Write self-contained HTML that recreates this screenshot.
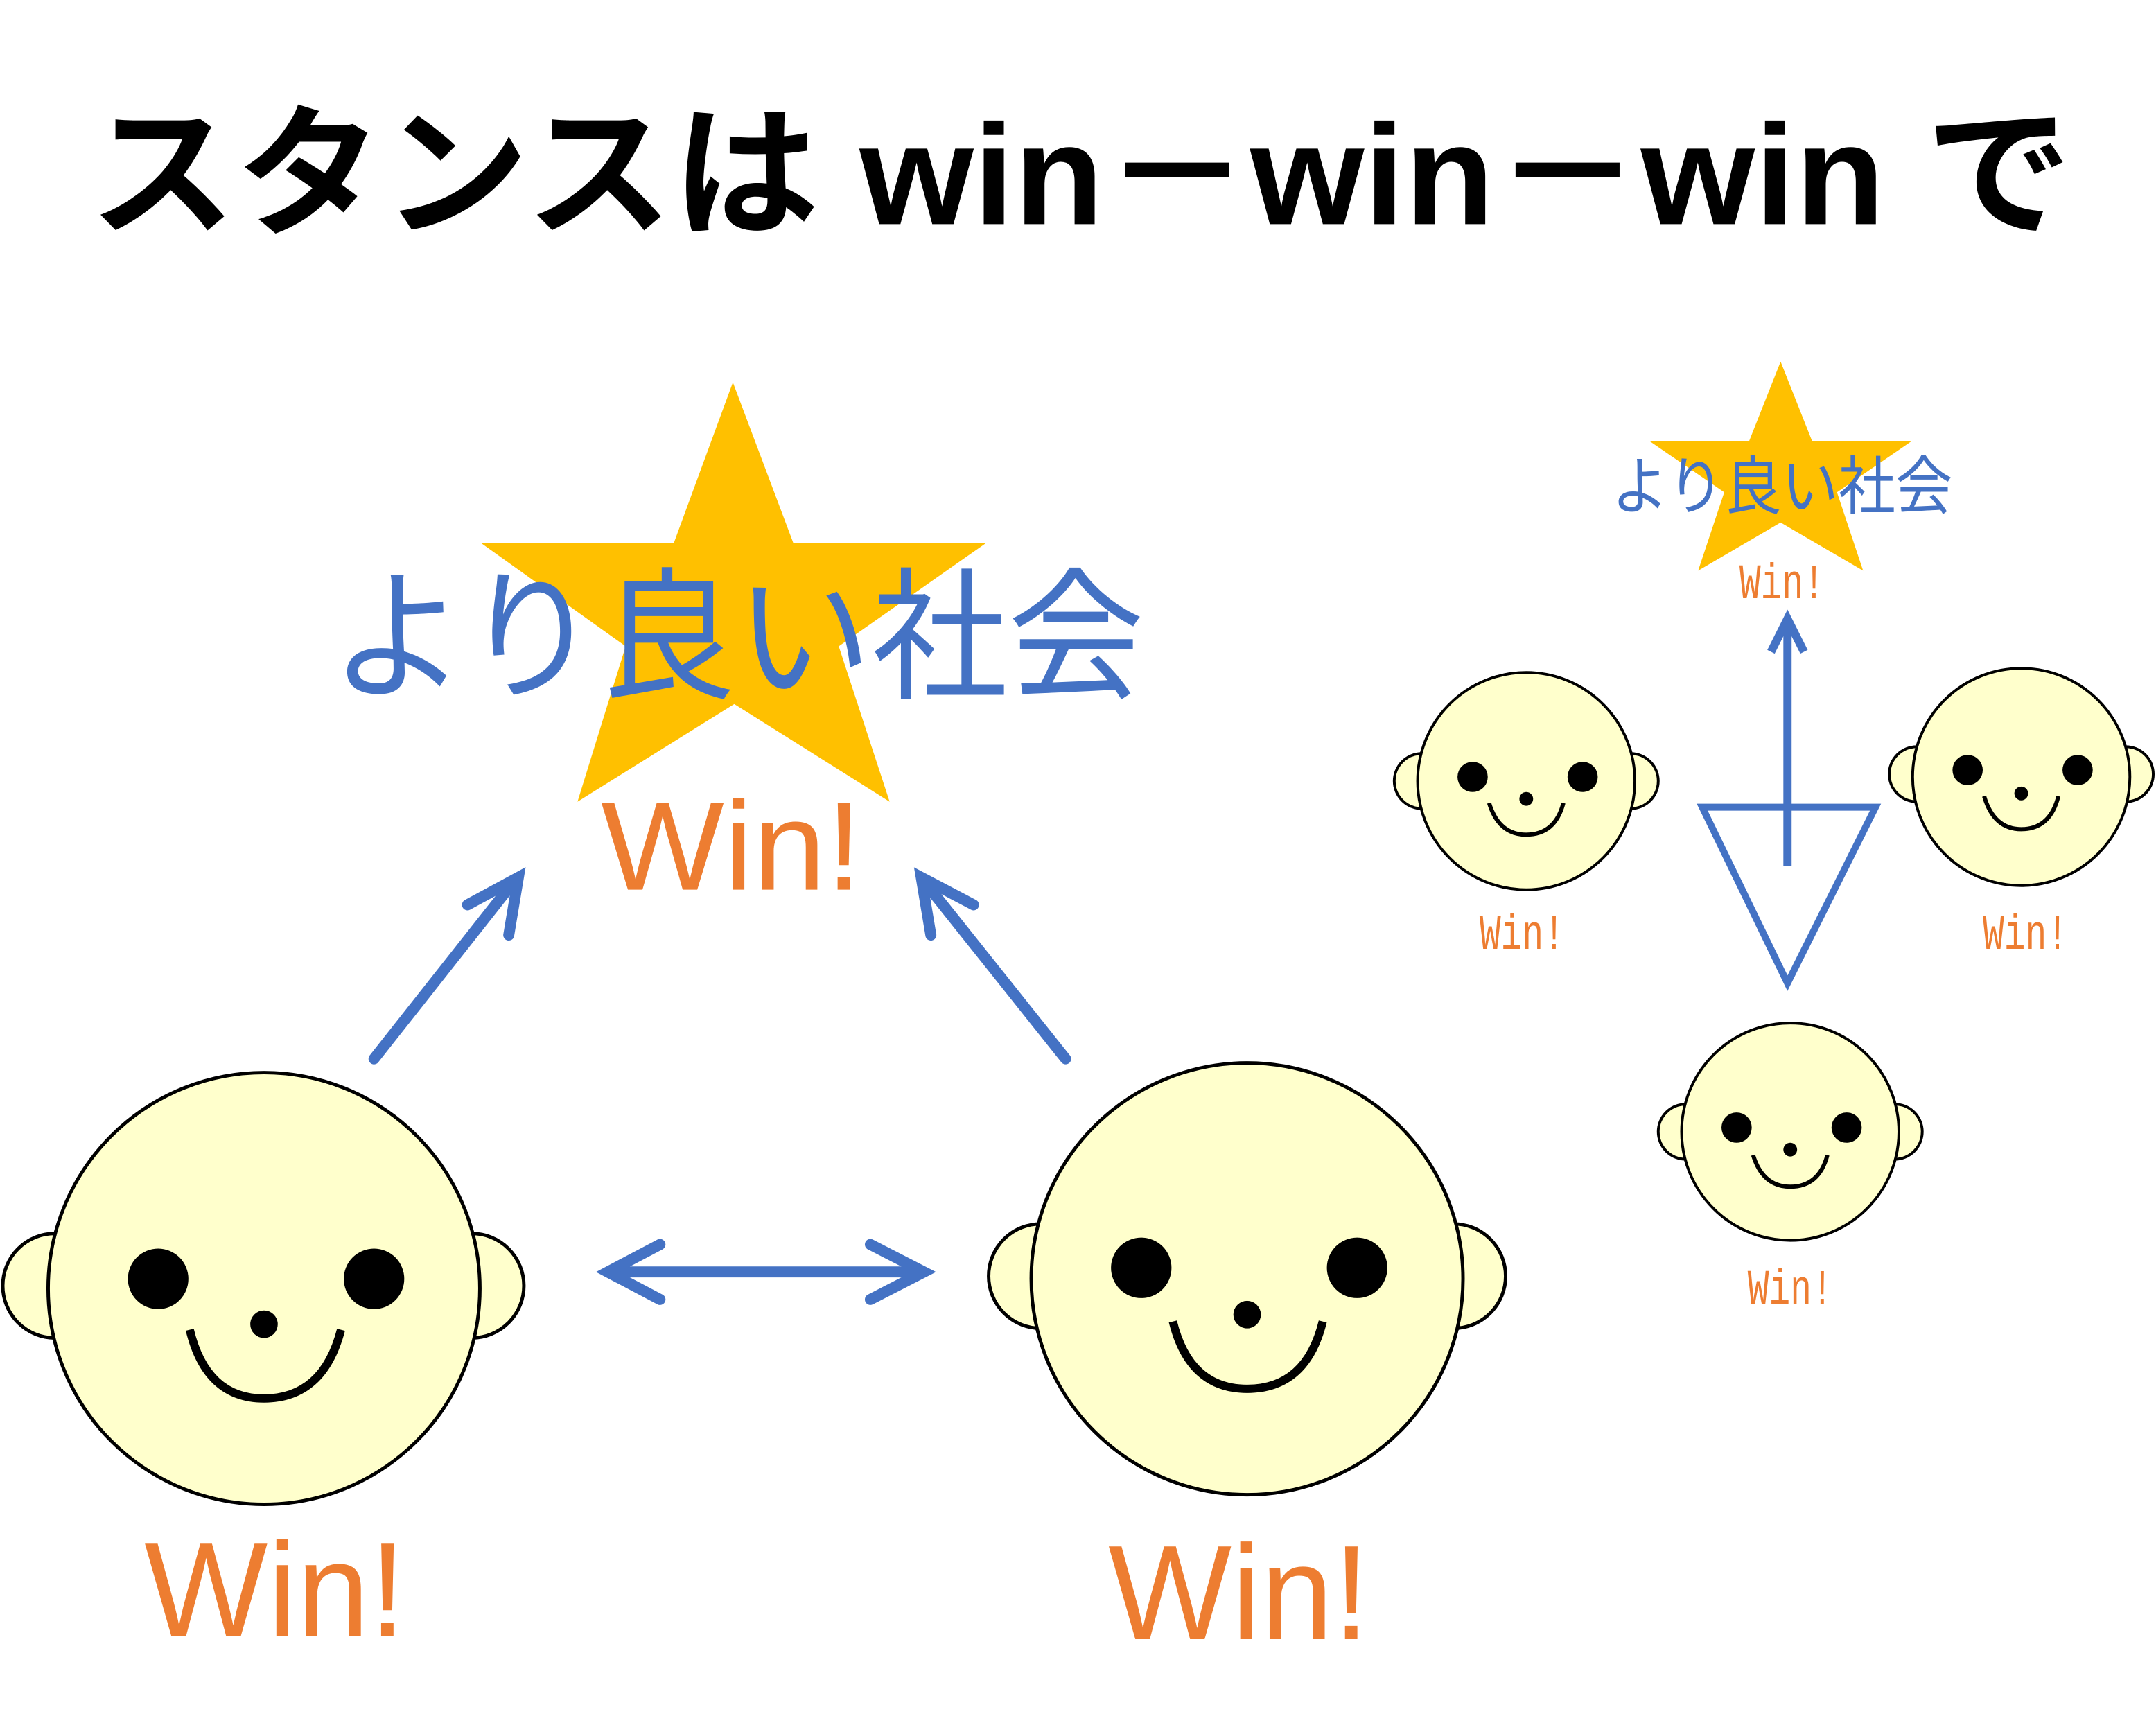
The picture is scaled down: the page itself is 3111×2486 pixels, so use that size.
<!DOCTYPE html>
<html><head><meta charset="utf-8"><style>html,body{margin:0;padding:0;background:#fff}svg{display:block}</style></head>
<body>
<svg width="3111" height="2486" viewBox="0 0 1568 1253" xmlns="http://www.w3.org/2000/svg">
<rect width="1568" height="1253" fill="#fff"/>
<text x="65" y="163" font-family="Liberation Sans, Noto Sans CJK JP, sans-serif" font-weight="bold" font-size="104" textLength="1442" lengthAdjust="spacingAndGlyphs">スタンスは win－win－win で</text>

<!-- big star -->
<polygon points="533,278 577,395 717,395 610,470 647,583 534,512 420,583 455,470 350,395 490,395" fill="#FFC000"/>
<text x="240" y="500" fill="#4472C4" font-family="Liberation Sans, Noto Sans CJK JP, sans-serif" font-size="104" textLength="592" lengthAdjust="spacingAndGlyphs">より良い社会</text>
<text x="437" y="647" fill="#ED7D31" font-family="Liberation Sans, sans-serif" font-size="92" textLength="190" lengthAdjust="spacingAndGlyphs">Win!</text>

<g stroke="#4472C4" stroke-width="8" fill="none" stroke-linecap="round">
<line x1="272" y1="770" x2="373" y2="642"/>
<polyline points="340,658 377,638 370,680"/>
<line x1="775" y1="770" x2="673" y2="642"/>
<polyline points="708,658 670,638 677,680"/>
<line x1="445" y1="925" x2="670" y2="925"/>
<polyline points="480,905 442,925 480,945"/>
<polyline points="633,905 672,925 633,945"/>
</g>

<!-- big faces -->
<g stroke="#000" stroke-width="2.5" fill="#FFFFCC">
<circle cx="40" cy="935" r="38"/><circle cx="343" cy="935" r="38"/>
<circle cx="192" cy="937" r="157"/>
<circle cx="757" cy="928" r="38"/><circle cx="1057" cy="928" r="38"/>
<circle cx="907" cy="930" r="157"/>
</g>
<g fill="#000">
<circle cx="115" cy="930" r="22"/><circle cx="272" cy="930" r="22"/><circle cx="192" cy="963" r="10"/>
<circle cx="830" cy="922" r="22"/><circle cx="987" cy="922" r="22"/><circle cx="907" cy="956" r="10"/>
</g>
<g stroke="#000" stroke-width="6" fill="none">
<path d="M138,967 Q150,1017 192,1017 Q235,1017 248,967"/>
<path d="M853,961 Q865,1010 907,1010 Q950,1010 962,961"/>
</g>
<text x="105" y="1190" fill="#ED7D31" font-family="Liberation Sans, sans-serif" font-size="98" textLength="190" lengthAdjust="spacingAndGlyphs">Win!</text>
<text x="806" y="1192" fill="#ED7D31" font-family="Liberation Sans, sans-serif" font-size="98" textLength="190" lengthAdjust="spacingAndGlyphs">Win!</text>

<!-- small star -->
<polygon points="1295,263 1318,321 1390,321 1336,358 1355,415 1295,380 1235,415 1254,358 1200,321 1272,321" fill="#FFC000"/>
<text x="1296" y="370" text-anchor="middle" fill="#4472C4" font-family="Liberation Sans, Noto Sans CJK JP, sans-serif" font-size="46" textLength="248" lengthAdjust="spacingAndGlyphs">より良い社会</text>
<text x="1296" y="435" text-anchor="middle" fill="#ED7D31" font-family="Liberation Mono, monospace" font-size="36" textLength="62" lengthAdjust="spacingAndGlyphs">Win!</text>

<polygon points="1238,587 1364,587 1300,715" fill="#fff" stroke="#4472C4" stroke-width="5"/>
<g stroke="#4472C4" stroke-width="6" fill="none">
<line x1="1300" y1="630" x2="1300" y2="450"/>
<polyline points="1288,474 1300,450 1312,474"/>
</g>

<!-- small faces -->
<g stroke="#000" stroke-width="2" fill="#FFFFCC">
<circle cx="1034" cy="568" r="20"/><circle cx="1186" cy="568" r="20"/><circle cx="1110" cy="568" r="79"/>
<circle cx="1394" cy="563" r="20"/><circle cx="1546" cy="563" r="20"/><circle cx="1470" cy="565" r="79"/>
<circle cx="1226" cy="823" r="20"/><circle cx="1378" cy="823" r="20"/><circle cx="1302" cy="823" r="79"/>
</g>
<g fill="#000">
<circle cx="1071" cy="565" r="11"/><circle cx="1151" cy="565" r="11"/><circle cx="1110" cy="581" r="5"/>
<circle cx="1431" cy="560" r="11"/><circle cx="1511" cy="560" r="11"/><circle cx="1470" cy="577" r="5"/>
<circle cx="1263" cy="820" r="11"/><circle cx="1343" cy="820" r="11"/><circle cx="1302" cy="836" r="5"/>
</g>
<g stroke="#000" stroke-width="3" fill="none">
<path d="M1083,584 Q1090,607 1110,607 Q1131,607 1137,584"/>
<path d="M1443,579 Q1450,603 1470,603 Q1491,603 1497,579"/>
<path d="M1275,840 Q1282,863 1302,863 Q1323,863 1329,840"/>
</g>
<g fill="#ED7D31" font-family="Liberation Mono, monospace" font-size="36" text-anchor="middle">
<text x="1107" y="690" textLength="62" lengthAdjust="spacingAndGlyphs">Win!</text>
<text x="1473" y="690" textLength="62" lengthAdjust="spacingAndGlyphs">Win!</text>
<text x="1302" y="948" textLength="62" lengthAdjust="spacingAndGlyphs">Win!</text>
</g>
</svg>
</body></html>
